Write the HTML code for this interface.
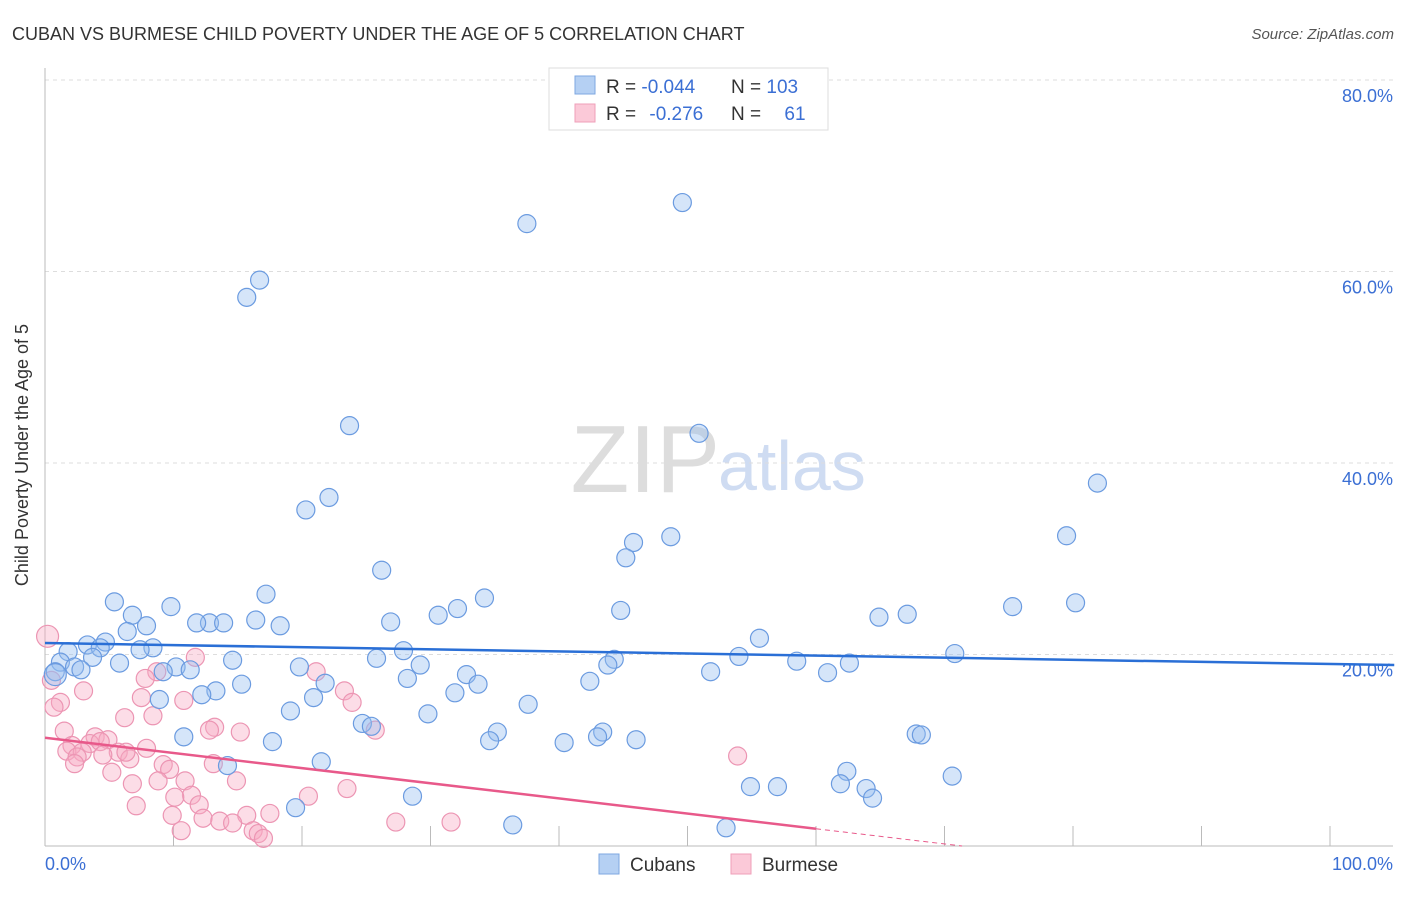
<!DOCTYPE html>
<html><head><meta charset="utf-8"><style>
body{margin:0;background:#fff;font-family:"Liberation Sans",sans-serif;}
svg text{font-family:"Liberation Sans",sans-serif;}
</style></head><body>
<svg width="1406" height="892" xmlns="http://www.w3.org/2000/svg">
<text x="12" y="40" font-size="18" fill="#333">CUBAN VS BURMESE CHILD POVERTY UNDER THE AGE OF 5 CORRELATION CHART</text>
<text x="1394" y="39" font-size="15" fill="#555" font-style="italic" text-anchor="end">Source: ZipAtlas.com</text>
<text x="720" y="492" font-size="96" fill="#ddd" text-anchor="end" font-family="Liberation Serif">ZIP</text>
<text x="718" y="490" font-size="70" fill="#cfdcf2">atlas</text>
<g id="grid"></g>
<line x1="45" y1="68" x2="45" y2="846" stroke="#bbb"/>
<line x1="45" y1="846" x2="1393" y2="846" stroke="#bbb"/>
<text x="28" y="455" font-size="18" fill="#333" text-anchor="middle" transform="rotate(-90 28 455)">Child Poverty Under the Age of 5</text>
<g id="pts"></g>
<g id="trend"></g>
<text x="45" y="870" font-size="18" fill="#3b6fd4">0.0%</text>
<text x="1393" y="870" font-size="18" fill="#3b6fd4" text-anchor="end">100.0%</text>
<g>
<rect x="549" y="68" width="279" height="62" fill="#fff" stroke="#ddd"/>
<rect x="575" y="76" width="20" height="18" fill="#b5d0f3" stroke="#7ea7e0"/>
<rect x="575" y="104" width="20" height="18" fill="#fbc9d8" stroke="#ef9fb9"/>
<text x="606" y="93" font-size="19" fill="#333">R = <tspan fill="#3b6fd4">-0.044</tspan></text>
<text x="731" y="93" font-size="19" fill="#333">N = <tspan fill="#3b6fd4">103</tspan></text>
<text x="606" y="120" font-size="19" fill="#333">R = <tspan fill="#3b6fd4" dx="8">-0.276</tspan></text>
<text x="731" y="120" font-size="19" fill="#333">N = <tspan fill="#3b6fd4" dx="18">61</tspan></text>
</g>
<g><rect x="599" y="854" width="20" height="20" fill="#b5d0f3" stroke="#7ea7e0"/><text x="630" y="871" font-size="19" fill="#333">Cubans</text></g>
<g><rect x="731" y="854" width="20" height="20" fill="#fbc9d8" stroke="#ef9fb9"/><text x="762" y="871" font-size="19" fill="#333">Burmese</text></g>
</svg>
<script>
const yTicks=[20,40,60,80];
const cubanX=[49.6,37.5,16.7,15.7,23.7,50.9,81.9,22.1,20.3,79.5,48.7,45.8,45.2,26.2,17.2,34.2,5.4,80.2,75.3,9.8,32.1,44.8,30.6,67.1,64.9,6.8,16.4,26.9,12.8,13.9,11.8,7.9,18.3,6.4,55.6,4.7,3.3,4.3,8.4,7.4,27.9,1.8,70.8,54.0,3.7,14.6,25.8,44.3,58.5,62.6,1.2,5.8,43.8,29.2,19.8,10.2,2.3,11.3,9.2,2.8,0.8,51.8,60.9,32.8,28.2,42.4,33.7,15.3,21.8,13.3,31.9,12.2,20.9,8.9,37.6,19.1,29.8,24.7,25.4,67.8,68.2,43.4,35.2,43.0,10.8,34.6,46.0,17.7,40.4,14.2,21.5,62.4,70.6,54.9,57.0,61.9,63.9,64.4,28.6,19.5,36.4,53.0,0.8];
const cubanY=[67.2,65.0,59.1,57.3,43.9,43.1,37.9,36.4,35.1,32.4,32.3,31.7,30.1,28.8,26.3,25.9,25.5,25.4,25.0,25.0,24.8,24.6,24.1,24.2,23.9,24.1,23.6,23.4,23.3,23.3,23.3,23.0,23.0,22.4,21.7,21.3,21.0,20.7,20.7,20.5,20.4,20.3,20.1,19.8,19.7,19.4,19.6,19.5,19.3,19.1,19.2,19.1,18.9,18.9,18.7,18.7,18.7,18.4,18.2,18.4,18.2,18.2,18.1,17.9,17.5,17.2,16.9,16.9,17.0,16.2,16.0,15.8,15.5,15.3,14.8,14.1,13.8,12.8,12.5,11.7,11.6,11.9,11.9,11.4,11.4,11.0,11.1,10.9,10.8,8.4,8.8,7.8,7.3,6.2,6.2,6.5,6.0,5.0,5.2,4.0,2.2,1.9,17.9];
const burX=[0.2,11.7,8.7,21.1,7.8,0.5,3.0,23.3,7.5,10.8,23.9,1.2,0.7,8.4,6.2,1.5,13.2,12.8,15.2,25.7,3.9,4.9,2.1,3.5,4.3,7.9,1.7,5.7,2.9,4.5,6.6,6.3,2.5,53.9,2.3,13.1,9.2,9.7,5.2,8.8,14.9,10.9,6.8,23.5,11.4,10.1,20.5,7.1,12.0,17.5,15.7,9.9,12.3,13.6,14.6,27.3,31.6,10.6,16.2,16.6,17.0];
const burY=[21.9,19.7,18.2,18.2,17.5,17.3,16.2,16.2,15.5,15.2,15.0,15.0,14.5,13.6,13.4,12.0,12.4,12.1,11.9,12.1,11.4,11.1,10.5,10.7,10.9,10.2,9.9,9.8,9.8,9.5,9.1,9.8,9.3,9.4,8.6,8.6,8.5,8.0,7.7,6.8,6.8,6.8,6.5,6.0,5.3,5.1,5.2,4.2,4.3,3.4,3.2,3.2,2.9,2.6,2.4,2.5,2.5,1.6,1.6,1.3,0.8];
const cubanTrend=[21.2,18.9];
const burTrend=[11.3,1.8];
const NS='http://www.w3.org/2000/svg';
const sx=v=>45+v*12.85, sy=v=>846-v*9.575;
function mk(t,a,p){const e=document.createElementNS(NS,t);for(const k in a)e.setAttribute(k,a[k]);p.appendChild(e);return e;}
const grid=document.getElementById('grid'),svg=grid.ownerSVGElement;
yTicks.forEach(t=>{
 const l=mk('line',{x1:45,x2:1393,y1:sy(t),y2:sy(t),stroke:'#ddd','stroke-dasharray':'4,4'},grid);
 
 
 const tx=mk('text',{x:1393,y:sy(t)+22,'font-size':18,fill:'#3b6fd4','text-anchor':'end'},grid);
 tx.textContent=t.toFixed(1)+'%';
 
 
});
for(let i=1;i<=10;i++){const l=mk('line',{x1:sx(i*10),x2:sx(i*10),y1:826,y2:846,stroke:'#bbb'},grid);
 
 }
const pts=document.getElementById('pts');
burX.forEach((x,i)=>{const c=mk('circle',{cx:sx(x),cy:sy(burY[i]),r:i==0?11:9,fill:'rgba(247,170,196,0.4)',stroke:'#ec95b3','stroke-width':1.2},pts);
 
 });
cubanX.forEach((x,i)=>{const c=mk('circle',{cx:sx(x),cy:sy(cubanY[i]),r:i==cubanX.length-1?11:9,fill:'rgba(150,190,240,0.4)',stroke:'#6b9be0','stroke-width':1.2},pts);
 
 });
const tr=document.getElementById('trend');
const bl=mk('line',{x1:sx(0),y1:sy(cubanTrend[0]),x2:sx(105),y2:sy(cubanTrend[1]),stroke:'#2a6fd6','stroke-width':2.5},tr);


const pl=mk('line',{x1:sx(0),y1:sy(burTrend[0]),x2:sx(60),y2:sy(burTrend[1]),stroke:'#e8598a','stroke-width':2.5},tr);


const slope=(burTrend[1]-burTrend[0])/60, xe=-burTrend[0]/slope;
const pd=mk('line',{x1:sx(60),y1:sy(burTrend[1]),x2:sx(xe),y2:sy(0),stroke:'#e8598a','stroke-width':1,'stroke-dasharray':'5,4'},tr);


</script>
</body></html>
